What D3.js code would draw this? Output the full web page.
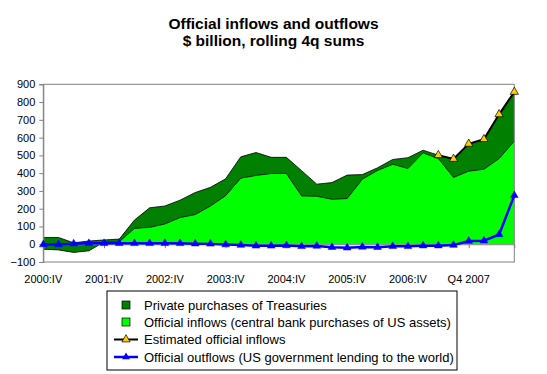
<!DOCTYPE html>
<html><head><meta charset="utf-8">
<script src="https://cdn.jsdelivr.net/npm/d3@7/dist/d3.min.js"></script>
<style>
body{margin:0;background:#fff}
svg{display:block}
text{font-family:Arial,"Liberation Sans",sans-serif;fill:#000}
</style>
</head><body>
<svg id="c" width="547" height="374"></svg>
<script>
// ---- data ----
const quarters = [
 "2000:IV","2001:I","2001:II","2001:III","2001:IV","2002:I","2002:II","2002:III",
 "2002:IV","2003:I","2003:II","2003:III","2003:IV","2004:I","2004:II","2004:III",
 "2004:IV","2005:I","2005:II","2005:III","2005:IV","2006:I","2006:II","2006:III",
 "2006:IV","2007:I","2007:II","2007:III","2007:IV","2008:I","2008:II","2008:III"
];
const tickQuarters = ["2000:IV","2001:IV","2002:IV","2003:IV","2004:IV","2005:IV","2006:IV","2007:IV"];
const tickLabels   = ["2000:IV","2001:IV","2002:IV","2003:IV","2004:IV","2005:IV","2006:IV","Q4 2007"];
const yTicks = [-100,0,100,200,300,400,500,600,700,800,900];

// Official inflows (central bank purchases of US assets)
const officialInflows = [-28,-32,-46,-37,12,14,89,95,114,150,167,215,273,372,387,398,
                         398,272,270,253,257,366,415,450,426,514,482,376,411,422,482,580];
// Private purchases of Treasuries
const privatePurchases = [66,70,54,55,12,15,47,110,101,98,124,105,95,120,129,91,
                          91,142,68,94,132,26,15,27,61,15,19,104,154,169,249,277];
// Estimated official inflows
const estimatedInflows = [null,null,null,null,null,null,null,null,null,null,null,null,null,null,null,null,
                          null,null,null,null,null,null,null,null,null,null,501,480,565,591,731,857];
// Official outflows (US government lending to the world)
const officialOutflows = [-2,-2,3,5,5,5,5,5,5,5,3,2,-2,-5,-9,-9,
                          -7,-12,-10,-17,-20,-15,-17,-12,-12,-8,-8,-5,18,20,55,275];

const title1 = "Official inflows and outflows";
const title2 = "$ billion, rolling 4q sums";
const legendNames = ["Private purchases of Treasuries",
                     "Official inflows (central bank purchases of US assets)",
                     "Estimated official inflows",
                     "Official outflows (US government lending to the world)"];

// ---- chart ----
const svg = d3.select("#c");
const L = 43.3, R = 514.3, T = 84.3, B = 262;
const x = d3.scalePoint().domain(quarters).range([L, R]);
const y = d3.scaleLinear().domain([-100, 900]).range([B, T]);

const rows = quarters.map((q,i)=>({q, off: officialInflows[i], priv: privatePurchases[i]}));
const stacked = d3.stack().keys(["off","priv"]).offset(d3.stackOffsetNone)(rows);

const area = d3.area().x(d=>x(d.data.q)).y0(d=>y(d[0])).y1(d=>y(d[1]));

// title
svg.append("text").attr("x",273.5).attr("y",29).attr("text-anchor","middle")
  .style("font-size","15.5px").style("font-weight","bold").text(title1);
svg.append("text").attr("x",273.5).attr("y",46).attr("text-anchor","middle")
  .style("font-size","15.5px").style("font-weight","bold").text(title2);

// areas
svg.append("path").datum(stacked[0]).attr("d",area).attr("fill","#00FF00");
svg.append("path").datum(stacked[1]).attr("d",area).attr("fill","#008000");
// area edges
const edgeTop = d3.line().x(d=>x(d.data.q)).y(d=>y(d[1]));
const edgeBot = d3.line().x(d=>x(d.data.q)).y(d=>y(d[0]));
svg.append("path").datum(stacked[1]).attr("d",edgeTop).attr("fill","none").attr("stroke","#000").attr("stroke-width",0.8);
svg.append("path").datum(stacked[1]).attr("d",edgeBot).attr("fill","none").attr("stroke","#000").attr("stroke-width",0.8);

// plot border
svg.append("rect").attr("x",L).attr("y",T).attr("width",R-L).attr("height",B-T)
  .attr("fill","none").attr("stroke","#808080").attr("stroke-width",1);

// y axis
const yAxis = d3.axisLeft(y).tickValues(yTicks).tickSize(4).tickPadding(4);
const gy = svg.append("g").attr("transform",`translate(${L},0)`).call(yAxis);
gy.select(".domain").attr("stroke","#808080");
gy.selectAll(".tick line").attr("stroke","#808080");
gy.selectAll(".tick text").style("font-size","11px").style("font-family","Arial, 'Liberation Sans', sans-serif").attr("fill","#000");

// x axis at zero
const xAxis = d3.axisBottom(x).tickValues(tickQuarters).tickSize(4).tickFormat(()=> "");
const gx = svg.append("g").attr("transform",`translate(0,${y(0)})`).call(xAxis);
gx.select(".domain").attr("stroke","#808080");
gx.selectAll(".tick line").attr("stroke","#808080");
// x labels (low position)
svg.append("g").selectAll("text").data(tickQuarters).join("text")
  .attr("x",d=>x(d)).attr("y",283).attr("text-anchor","middle")
  .style("font-size","11px").text((d,i)=>tickLabels[i]);

// official outflows line
const line = d3.line().defined(d=>d.v!=null).x(d=>x(d.q)).y(d=>y(d.v));
const outData = quarters.map((q,i)=>({q, v: officialOutflows[i]}));
svg.append("path").datum(outData).attr("d",line).attr("fill","none")
  .attr("stroke","#0000FF").attr("stroke-width",2.5);
const triBlue = d3.symbol(d3.symbolTriangle).size(26);
svg.append("g").selectAll("path").data(outData).join("path")
  .attr("d",triBlue).attr("transform",d=>`translate(${x(d.q)},${y(d.v)})`)
  .attr("fill","#0000FF").attr("stroke","#0000FF").attr("stroke-width",0.5);

// estimated inflows line
const estData = quarters.map((q,i)=>({q, v: estimatedInflows[i]}));
svg.append("path").datum(estData).attr("d",line).attr("fill","none")
  .attr("stroke","#000").attr("stroke-width",2);
const triY = d3.symbol(d3.symbolTriangle).size(30);
svg.append("g").selectAll("path").data(estData.filter(d=>d.v!=null)).join("path")
  .attr("d",triY).attr("transform",d=>`translate(${x(d.q)},${y(d.v)})`)
  .attr("fill","#FFCC00").attr("stroke","#000").attr("stroke-width",0.7);

// legend
const lgX = 107, lgY = 291, lgW = 350, lgH = 79;
const lg = svg.append("g");
lg.append("rect").attr("x",lgX).attr("y",lgY).attr("width",lgW).attr("height",lgH)
  .attr("fill","#fff").attr("stroke","#000").attr("stroke-width",1);
const rowY = [305, 322, 339.5, 357];
const keyX = 126, txtX = 144;
// area keys
lg.append("rect").attr("x",keyX-4).attr("y",rowY[0]-4).attr("width",8).attr("height",8)
  .attr("fill","#008000").attr("stroke","#000").attr("stroke-width",0.7);
lg.append("rect").attr("x",keyX-4).attr("y",rowY[1]-4).attr("width",8).attr("height",8)
  .attr("fill","#00FF00").attr("stroke","#000").attr("stroke-width",0.7);
// line keys
lg.append("line").attr("x1",keyX-12).attr("x2",keyX+12).attr("y1",rowY[2]).attr("y2",rowY[2])
  .attr("stroke","#000").attr("stroke-width",2);
lg.append("path").attr("d",triY).attr("transform",`translate(${keyX},${rowY[2]})`)
  .attr("fill","#FFCC00").attr("stroke","#000").attr("stroke-width",0.7);
lg.append("line").attr("x1",keyX-12).attr("x2",keyX+12).attr("y1",rowY[3]).attr("y2",rowY[3])
  .attr("stroke","#0000FF").attr("stroke-width",2.5);
lg.append("path").attr("d",triBlue).attr("transform",`translate(${keyX},${rowY[3]})`)
  .attr("fill","#0000FF");
lg.selectAll("text.l").data(legendNames).join("text").attr("class","l")
  .attr("x",txtX).attr("y",(d,i)=>rowY[i]+4.5).style("font-size","13px").text(d=>d);
</script>
</body></html>
